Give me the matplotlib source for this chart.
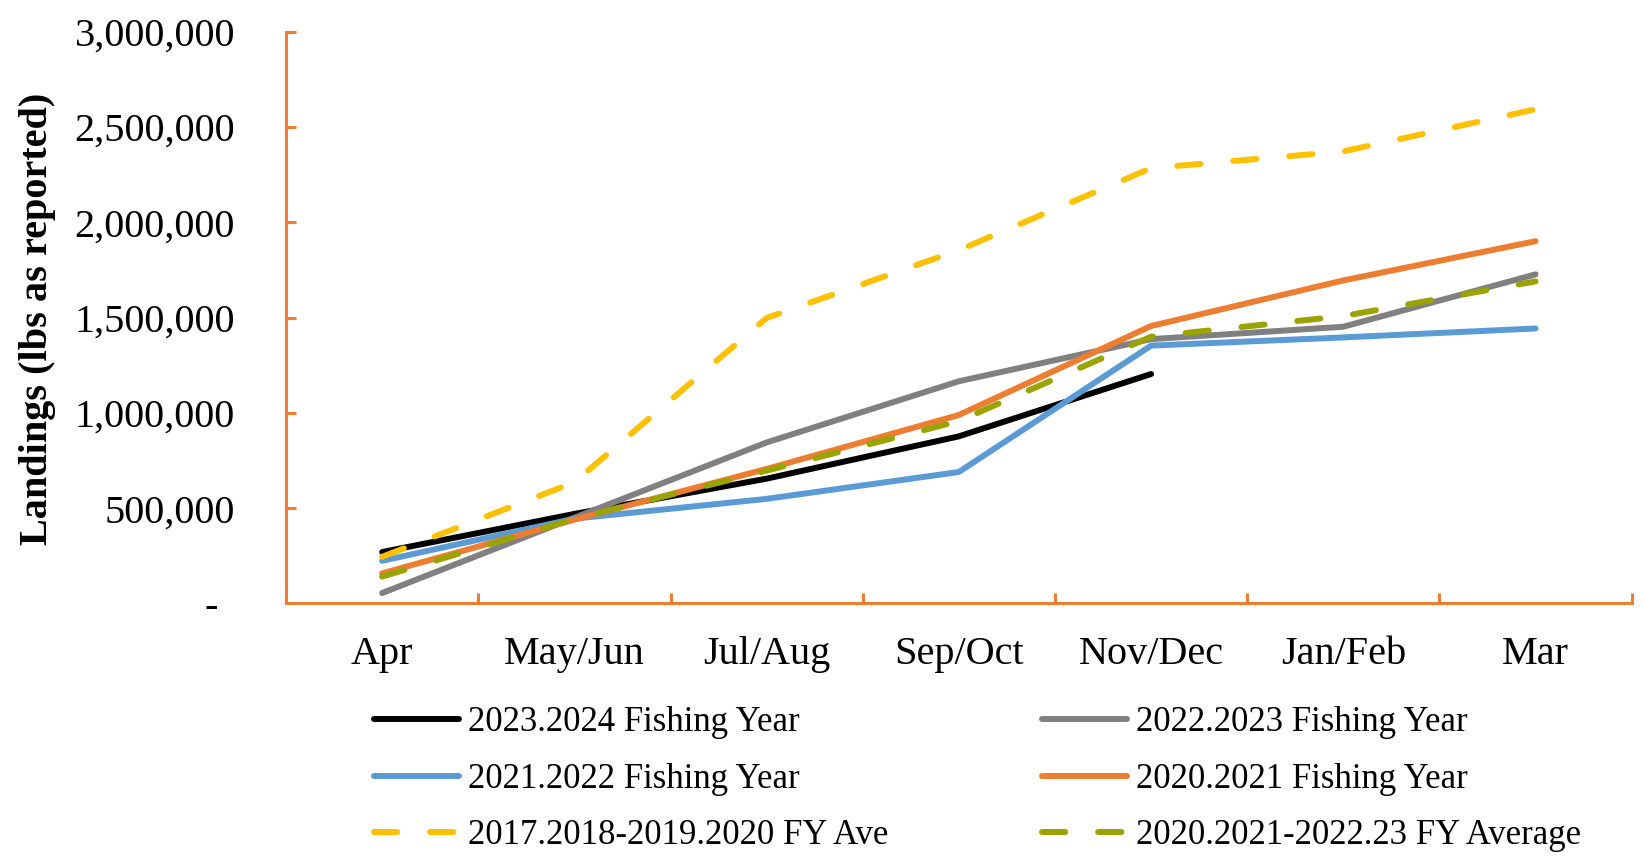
import matplotlib.pyplot as plt
from matplotlib.ticker import FixedLocator, FuncFormatter
from matplotlib.transforms import ScaledTranslation

plt.rcParams['font.family'] = ['Liberation Serif', 'DejaVu Serif']

# Periods of the fishing year
periods = ["Apr", "May/Jun", "Jul/Aug", "Sep/Oct", "Nov/Dec", "Jan/Feb", "Mar"]

# Cumulative landings (lbs as reported)
fy_2023_2024 = [270000, 470000, 655000, 877000, 1204000]
fy_2022_2023 = [55000, 450000, 845000, 1166000, 1387000, 1452000, 1727000]
fy_2021_2022 = [224000, 445000, 549000, 690000, 1353000, 1396000, 1443000]
fy_2020_2021 = [158000, 440000, 706000, 989000, 1456000, 1695000, 1901000]
ave_2017_2020 = [245000, 636000, 1498000, 1854000, 2284000, 2372000, 2593000]
ave_2020_2023 = [141000, 444000, 697000, 957000, 1400000, 1508000, 1690000]

y_ticks = [0, 500000, 1000000, 1500000, 2000000, 2500000, 3000000]

ORANGE = "#ED7D31"
LW = 4.3
DASH = (3.9, 5.5)

fig = plt.figure(figsize=(16.43, 8.57), dpi=100)
ax = fig.add_axes([0.1741, 0.2958, 0.819, 0.6672])

x = list(range(len(periods)))

ax.plot(x[:len(fy_2023_2024)], fy_2023_2024, color="black", lw=LW,
        solid_capstyle="round", label="2023.2024 Fishing Year")
ax.plot(x, fy_2022_2023, color="#808080", lw=LW,
        solid_capstyle="round", label="2022.2023 Fishing Year")
ax.plot(x, fy_2021_2022, color="#5B9BD5", lw=LW,
        solid_capstyle="round", label="2021.2022 Fishing Year")
ax.plot(x, fy_2020_2021, color=ORANGE, lw=LW,
        solid_capstyle="round", label="2020.2021 Fishing Year")
ax.plot(x, ave_2017_2020, color="#FFC000", lw=LW, dashes=DASH,
        dash_capstyle="round", label="2017.2018-2019.2020 FY Ave")
ax.plot(x, ave_2020_2023, color="#9BA300", lw=LW, dashes=DASH,
        dash_capstyle="round", label="2020.2021-2022.23 FY Average")

ax.set_xlim(-0.5, len(periods) - 0.5)
ax.set_ylim(0, 3000000)

# category labels at centres, tick marks on the boundaries
ax.set_xticks(x)
ax.set_xticklabels(periods, fontsize=29)
ax.xaxis.set_minor_locator(FixedLocator([i + 0.5 for i in x]))
ax.tick_params(axis="x", which="major", length=0, pad=23.5)
ax.tick_params(axis="x", which="minor", direction="in", length=7.5,
               width=2.2, color=ORANGE)

ax.set_yticks(y_ticks)
ax.yaxis.set_major_formatter(FuncFormatter(lambda v, p: "-" if v == 0 else f"{int(v):,}"))
ax.tick_params(axis="y", direction="in", length=7, width=2.2,
               color=ORANGE, labelsize=29, pad=36.7)

for side in ("top", "right"):
    ax.spines[side].set_visible(False)
for side in ("left", "bottom"):
    ax.spines[side].set_color(ORANGE)
    ax.spines[side].set_linewidth(2.2)

# accounting style zero sits left of the number column
zero_label = ax.yaxis.get_major_ticks()[0].label1
zero_label.set_transform(zero_label.get_transform()
                         + ScaledTranslation(-0.166, 0, fig.dpi_scale_trans))

fig.text(0.0226, 0.628, "Landings (lbs as reported)", rotation=90,
         ha="center", va="center", fontsize=29, fontweight="bold")

# legend is filled row by row in the reference
handles, labels = ax.get_legend_handles_labels()
order = [0, 2, 4, 1, 3, 5]
fig.legend([handles[i] for i in order], [labels[i] for i in order],
           loc="upper left", bbox_to_anchor=(0.2275, 0.176), ncol=2,
           frameon=False, fontsize=25, handlelength=2.45,
           handletextpad=0.25, columnspacing=4.45, labelspacing=0.68,
           borderpad=0, borderaxespad=0)

fig.savefig("out.png", dpi=100)
